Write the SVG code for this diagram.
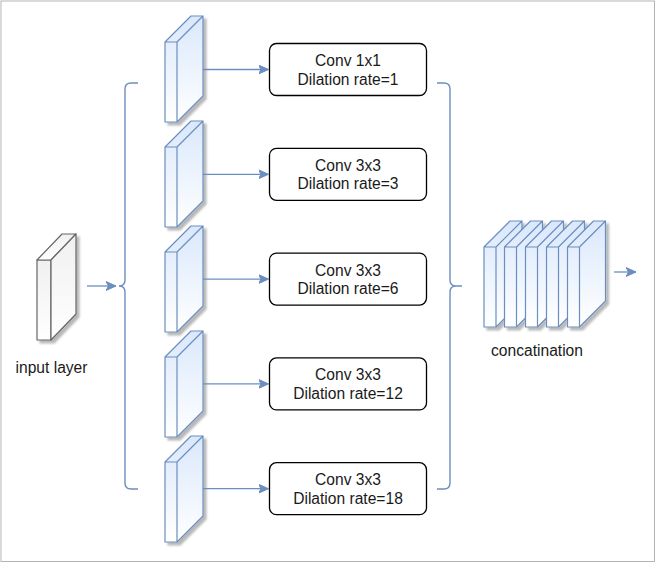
<svg xmlns="http://www.w3.org/2000/svg" width="656" height="563" viewBox="0 0 656 563">
<style>
.blue{fill:url(#gb);stroke:#6c8ebf;stroke-width:1.2;stroke-linejoin:round}
.gray{fill:url(#gg);stroke:#666666;stroke-width:1.2;stroke-linejoin:round}
.box{fill:#ffffff;stroke:#000000;stroke-width:1.3}
.t{font-family:"Liberation Sans",Arial,sans-serif;font-size:15.6px;fill:#1a1a1a;text-anchor:middle}
.c{fill:none;stroke:#6c8ebf;stroke-width:1.3}
.br{fill:none;stroke:#6c8ebf;stroke-width:1.4}
</style>
<defs>
<linearGradient id="gb" x1="0" y1="0" x2="0" y2="1"><stop offset="0" stop-color="#dae8fc"/><stop offset="1" stop-color="#ffffff"/></linearGradient>
<linearGradient id="gg" x1="0" y1="0" x2="0" y2="1"><stop offset="0" stop-color="#f0f0f0"/><stop offset="1" stop-color="#ffffff"/></linearGradient>
<filter id="sh" x="-30%" y="-30%" width="160%" height="160%"><feDropShadow dx="3" dy="3" stdDeviation="1.2" flood-color="#000" flood-opacity="0.28"/></filter>
<marker id="ar" markerUnits="userSpaceOnUse" markerWidth="12" markerHeight="10" refX="10" refY="5" orient="auto"><path d="M0,0.5 L10,5 L0,9.5 L2.5,5 Z" fill="#6c8ebf" stroke="#6c8ebf" stroke-width="1"/></marker>
<g id="slab"><path d="M0,0 H12 V80 H0 Z M0,0 L26,-26 H38 L12,0 Z M12,0 L38,-26 V54 L12,80 Z"/></g>
</defs>
<rect x="1" y="1" width="653.5" height="560.5" fill="#ffffff" stroke="#b3b3b3" stroke-width="1"/>

<g id="input-layer">
<g filter="url(#sh)" class="gray">
<rect x="37" y="260" width="14" height="80"/>
<path d="M37,260 L62,234 H76 L51,260 Z"/>
<path d="M51,260 L76,234 V314 L51,340 Z"/>
</g>
<text class="t" x="51.5" y="372.5">input layer</text>
</g>

<g id="branch-slabs" class="blue">
<g filter="url(#sh)" transform="translate(165,42)"><use href="#slab"/></g>
<g filter="url(#sh)" transform="translate(165,147)"><use href="#slab"/></g>
<g filter="url(#sh)" transform="translate(165,252)"><use href="#slab"/></g>
<g filter="url(#sh)" transform="translate(165,357)"><use href="#slab"/></g>
<g filter="url(#sh)" transform="translate(165,462)"><use href="#slab"/></g>
</g>

<g id="conv1">
<rect class="box" x="269.5" y="43.5" width="157" height="52" rx="7"/>
<text class="t" x="348" y="66">Conv 1x1</text>
<text class="t" x="348" y="84.5">Dilation rate=1</text>
</g>
<g id="conv2">
<rect class="box" x="269.5" y="148.3" width="157" height="52" rx="7"/>
<text class="t" x="348" y="170.8">Conv 3x3</text>
<text class="t" x="348" y="189.3">Dilation rate=3</text>
</g>
<g id="conv3">
<rect class="box" x="269.5" y="253.1" width="157" height="52" rx="7"/>
<text class="t" x="348" y="275.6">Conv 3x3</text>
<text class="t" x="348" y="294.1">Dilation rate=6</text>
</g>
<g id="conv4">
<rect class="box" x="269.5" y="357.9" width="157" height="52" rx="7"/>
<text class="t" x="348" y="380.4">Conv 3x3</text>
<text class="t" x="348" y="398.9">Dilation rate=12</text>
</g>
<g id="conv5">
<rect class="box" x="269.5" y="462.7" width="157" height="52" rx="7"/>
<text class="t" x="348" y="485.2">Conv 3x3</text>
<text class="t" x="348" y="503.7">Dilation rate=18</text>
</g>

<g id="concatenation">
<g class="blue" filter="url(#sh)">
<g transform="translate(484,247)"><use href="#slab"/></g>
<g transform="translate(504.5,247)"><use href="#slab"/></g>
<g transform="translate(525.5,247)"><use href="#slab"/></g>
<g transform="translate(546.5,247)"><use href="#slab"/></g>
<g transform="translate(567.5,247)"><use href="#slab"/></g>
</g>
<text class="t" x="537" y="356">concatination</text>
</g>

<g id="connectors">
<path class="c" d="M87,286 H116" marker-end="url(#ar)"/>
<path class="br" d="M138,83 H131 Q125,83 125,89 V280 Q125,286 119,286 Q125,286 125,292 V483 Q125,489 131,489 H138"/>
<path class="c" d="M203,69.5 H268.5" marker-end="url(#ar)"/>
<path class="c" d="M203,174.3 H268.5" marker-end="url(#ar)"/>
<path class="c" d="M203,279.1 H268.5" marker-end="url(#ar)"/>
<path class="c" d="M203,383.9 H268.5" marker-end="url(#ar)"/>
<path class="c" d="M203,488.7 H268.5" marker-end="url(#ar)"/>
<path class="br" d="M437,83 H444 Q450,83 450,89 V280 Q450,286 456,286 H462 M456,286 Q450,286 450,292 V483 Q450,489 444,489 H437"/>
<path class="c" d="M614,272 H636" marker-end="url(#ar)"/>
</g>
</svg>
